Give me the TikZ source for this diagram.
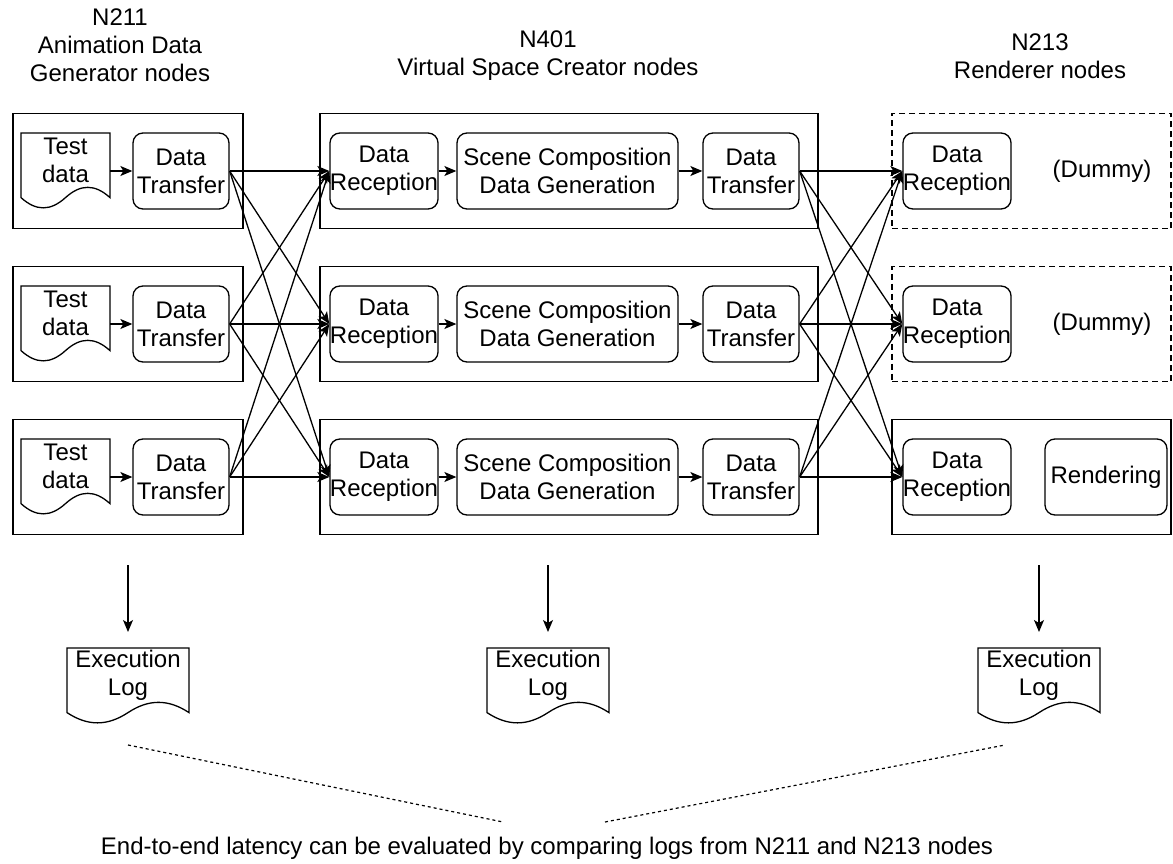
\documentclass[tikz,border=0pt]{standalone}
\usepackage{fontspec}
\setmainfont{Liberation Sans}
\usepackage{tikz}
\usetikzlibrary{arrows.meta}
\usetikzlibrary{positioning}

\tikzset{
	procnode/.style={rectangle, draw, rounded corners=10pt, minimum height=76pt, inner sep=0pt, align=center},
	groupnode/.style={rectangle, draw, minimum height=115pt, inner sep=0pt},
	dummygroup/.style={groupnode, dash pattern=on 6pt off 4pt},
	docnode/.style={rectangle, minimum height=76pt, inner sep=0pt, outer sep=0pt},
	doctext/.style={align=center, yshift=11pt},
	mydashed/.style={dash pattern=on 3pt off 3pt, line width=1.2pt}
}

% wavy document outline round a node: name, width, height
\newcommand{\docwave}[3]{%
	\begin{scope}[shift={(#1.north west)}, x=#2, y=-#3]
		\draw (0,0) -- (1,0) -- (1,0.85) .. controls (0.83,0.67) and (0.67,0.67) .. (0.5,0.85)
			.. controls (0.33,1.03) and (0.17,1.03) .. (0,0.85) -- cycle;
	\end{scope}}

\begin{document}
\begin{tikzpicture}[x=1pt, y=-1pt, line width=1.3pt, font=\fontsize{24}{28}\selectfont, >={Stealth[length=12pt, width=10pt, inset=3pt]}]
		\useasboundingbox (0,0) rectangle (1173,864);
		
		%Headers
		\node[align=center] at (120,45) (hgen) {N211\\Animation Data\\Generator nodes};
		\node[align=center] at (548,56) (hvsc) {N401\\Virtual Space Creator nodes};
		\node[align=center] at (1040,56) (hren) {N213\\Renderer nodes};
		
		%Group boxes
		\node[groupnode, minimum width=230pt] at (128,171) (gen1) {};
		\node[groupnode, minimum width=230pt] at (128,324) (gen2) {};
		\node[groupnode, minimum width=230pt] at (128,477) (gen3) {};
		\node[groupnode, minimum width=498pt] at (569,171) (vsc1) {};
		\node[groupnode, minimum width=498pt] at (569,324) (vsc2) {};
		\node[groupnode, minimum width=498pt] at (569,477) (vsc3) {};
		\node[dummygroup, minimum width=279pt] at (1031.5,171) (ren1) {};
		\node[dummygroup, minimum width=279pt] at (1031.5,324) (ren2) {};
		\node[groupnode, minimum width=279pt] at (1031.5,477) (ren3) {};
		
		%Row 1
		\node[docnode, minimum width=89pt, label={[doctext]center:Test\\data}] at (65.5,171) (td1) {};
		\docwave{td1}{89pt}{76pt}
		\node[procnode, minimum width=96pt] at (181,171) (dt1) {Data\\Transfer};
		\node[procnode, minimum width=104pt] at (384,171) (dr1) {Data\\Reception};
		\node[procnode, minimum width=221pt] at (567.5,171) (sc1) {Scene Composition\\Data Generation};
		\node[procnode, minimum width=96pt] at (751,171) (dx1) {Data\\Transfer};
		\node[procnode, minimum width=104pt] at (957,171) (rr1) {Data\\Reception};
		\node at (1102,171) (dum1) {(Dummy)};
		
		%Row 2
		\node[docnode, minimum width=89pt, label={[doctext]center:Test\\data}] at (65.5,324) (td2) {};
		\docwave{td2}{89pt}{76pt}
		\node[procnode, minimum width=96pt] at (181,324) (dt2) {Data\\Transfer};
		\node[procnode, minimum width=104pt] at (384,324) (dr2) {Data\\Reception};
		\node[procnode, minimum width=221pt] at (567.5,324) (sc2) {Scene Composition\\Data Generation};
		\node[procnode, minimum width=96pt] at (751,324) (dx2) {Data\\Transfer};
		\node[procnode, minimum width=104pt] at (957,324) (rr2) {Data\\Reception};
		\node at (1102,324) (dum2) {(Dummy)};
		
		%Row 3
		\node[docnode, minimum width=89pt, label={[doctext]center:Test\\data}] at (65.5,477) (td3) {};
		\docwave{td3}{89pt}{76pt}
		\node[procnode, minimum width=96pt] at (181,477) (dt3) {Data\\Transfer};
		\node[procnode, minimum width=104pt] at (384,477) (dr3) {Data\\Reception};
		\node[procnode, minimum width=221pt] at (567.5,477) (sc3) {Scene Composition\\Data Generation};
		\node[procnode, minimum width=96pt] at (751,477) (dx3) {Data\\Transfer};
		\node[procnode, minimum width=104pt] at (957,477) (rr3) {Data\\Reception};
		\node[procnode, minimum width=122pt] at (1106,477) (rnd) {Rendering};
		
		%Logs
		\coordinate (up1) at (128,565);
		\coordinate (up2) at (548,565);
		\coordinate (up3) at (1039,565);
		\node[docnode, minimum width=122pt, label={[doctext]center:Execution\\Log}] at (128,686) (log1) {};
		\docwave{log1}{122pt}{76pt}
		\node[docnode, minimum width=122pt, label={[doctext]center:Execution\\Log}] at (548,686) (log2) {};
		\docwave{log2}{122pt}{76pt}
		\node[docnode, minimum width=122pt, label={[doctext]center:Execution\\Log}] at (1039,686) (log3) {};
		\docwave{log3}{122pt}{76pt}
		
		\coordinate (dl1) at (128,745);
		\coordinate (dl2) at (503,822);
		\coordinate (dr2a) at (605,822);
		\coordinate (dl3) at (1005,745);
		\node at (547,848) (note) {End-to-end latency can be evaluated by comparing logs from N211 and N213 nodes};
		
		%Lines
		
		\draw[->] (td1) -- (dt1);
		\draw[->] (td2) -- (dt2);
		\draw[->] (td3) -- (dt3);
		\draw[->] (dr1) -- (sc1);
		\draw[->] (dr2) -- (sc2);
		\draw[->] (dr3) -- (sc3);
		\draw[->] (sc1) -- (dx1);
		\draw[->] (sc2) -- (dx2);
		\draw[->] (sc3) -- (dx3);
		
		\draw[->] (dt1.east) -- (dr1.west);
		\draw[->] (dt1.east) -- (dr2.west);
		\draw[->] (dt1.east) -- (dr3.west);
		\draw[->] (dt2.east) -- (dr1.west);
		\draw[->] (dt2.east) -- (dr2.west);
		\draw[->] (dt2.east) -- (dr3.west);
		\draw[->] (dt3.east) -- (dr1.west);
		\draw[->] (dt3.east) -- (dr2.west);
		\draw[->] (dt3.east) -- (dr3.west);
		
		\draw[->] (dx1.east) -- (rr1.west);
		\draw[->] (dx1.east) -- (rr2.west);
		\draw[->] (dx1.east) -- (rr3.west);
		\draw[->] (dx2.east) -- (rr1.west);
		\draw[->] (dx2.east) -- (rr2.west);
		\draw[->] (dx2.east) -- (rr3.west);
		\draw[->] (dx3.east) -- (rr1.west);
		\draw[->] (dx3.east) -- (rr2.west);
		\draw[->] (dx3.east) -- (rr3.west);
		
		\draw[->, shorten >=16pt] (up1) -- (log1);
		\draw[->, shorten >=16pt] (up2) -- (log2);
		\draw[->, shorten >=16pt] (up3) -- (log3);
		
		\draw[mydashed] (dl1) -- (dl2);
		\draw[mydashed] (dr2a) -- (dl3);
		
	\end{tikzpicture}
\end{document}
